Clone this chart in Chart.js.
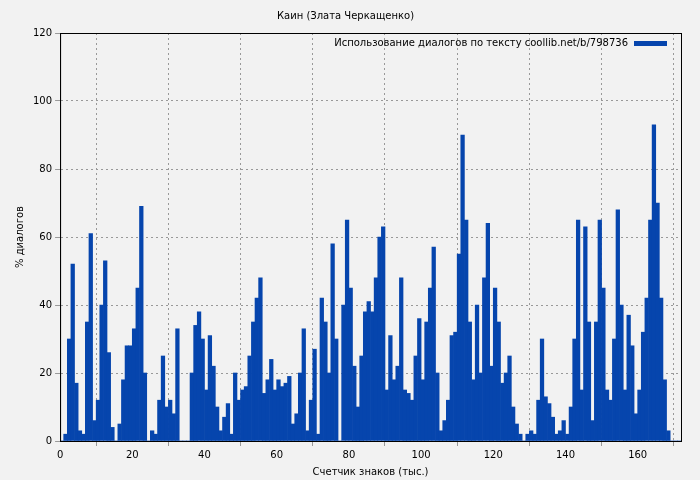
<html>
<head>
<script src="https://cdn.jsdelivr.net/npm/chart.js@4.4.0/dist/chart.umd.min.js"></script>
<style>
  body { margin: 0; background: #f2f2f2; }
  #wrap { width: 700px; height: 480px; }
</style>
</head>
<body>
<div id="wrap"><canvas id="myChart"></canvas></div>
<script>
// value per thousand characters (k = 0..171)
var dialogPct = [
  0, 2, 30, 52, 17, 3, 2, 35, 61, 6,
  12, 40, 53, 26, 4, 0, 5, 18, 28, 28,
  33, 45, 69, 20, 0, 3, 2, 12, 25, 10,
  12, 8, 33, 0, 0, 0, 20, 34, 38, 30,
  15, 31, 22, 10, 3, 7, 11, 2, 20, 12,
  15, 16, 25, 35, 42, 48, 14, 18, 24, 15,
  18, 16, 17, 19, 5, 8, 20, 33, 3, 12,
  27, 2, 42, 35, 20, 58, 30, 0, 40, 65,
  45, 22, 10, 25, 38, 41, 38, 48, 60, 63,
  15, 31, 18, 22, 48, 15, 14, 12, 25, 36,
  18, 35, 45, 57, 20, 3, 6, 12, 31, 32,
  55, 90, 65, 35, 18, 40, 20, 48, 64, 22,
  45, 35, 17, 20, 25, 10, 5, 2, 0, 2,
  3, 2, 12, 30, 13, 11, 7, 2, 3, 6,
  2, 10, 30, 65, 15, 63, 35, 6, 35, 65,
  45, 15, 12, 30, 68, 40, 15, 37, 28, 8,
  15, 32, 42, 65, 93, 70, 42, 18, 3, 0,
  0, 0
];
var xTicks = [0, 20, 40, 60, 80, 100, 120, 140, 160];
var yTicks = [0, 20, 40, 60, 80, 100, 120];
var seriesName = 'Использование диалогов по тексту coollib.net/b/798736';

var points = dialogPct.map(function (v, i) { return { x: i + 0.5, y: v }; });
var font = { family: 'DejaVu Sans', size: 10, weight: 'normal' };

new Chart(document.getElementById('myChart'), {
  type: 'bar',
  data: {
    datasets: [{
      label: seriesName,
      data: points,
      backgroundColor: '#0645ad',
      borderWidth: 0,
      barPercentage: 1,
      categoryPercentage: 1
    }]
  },
  options: {
    responsive: true,
    maintainAspectRatio: false,
    animation: false,
    layout: { padding: { left: 10, right: 19, top: 4, bottom: 0 } },
    plugins: {
      title: { display: true, text: 'Каин (Злата Черкащенко)', color: '#000', font: font, padding: { top: 6, bottom: 11 } },
      legend: { display: false },
      tooltip: { enabled: false }
    },
    scales: {
      x: {
        type: 'linear', min: 0, max: 172, offset: false,
        afterBuildTicks: function (s) { s.ticks = xTicks.map(function (v) { return { value: v }; }); },
        ticks: { color: '#000', font: font, maxRotation: 0 },
        grid: { color: '#999', tickLength: 5 },
        border: { color: '#000', dash: [2, 3] },
        title: { display: true, text: 'Счетчик знаков (тыс.)', color: '#000', font: font, padding: 2 }
      },
      y: {
        min: 0, max: 120,
        afterBuildTicks: function (s) { s.ticks = yTicks.map(function (v) { return { value: v }; }); },
        ticks: { color: '#000', font: font },
        grid: { color: '#999', tickLength: 5 },
        border: { color: '#000', dash: [2, 3] },
        title: { display: true, text: '% диалогов', color: '#000', font: font }
      }
    }
  },
  plugins: [{
    id: 'frame',
    beforeDraw: function (c) {
      var g = c.ctx; g.save(); g.fillStyle = '#f2f2f2'; g.fillRect(0, 0, c.width, c.height); g.restore();
    },
    afterDraw: function (c) {
      var a = c.chartArea, g = c.ctx;
      g.save(); g.strokeStyle = '#000'; g.lineWidth = 1; g.setLineDash([]);
      g.strokeRect(a.left + 0.5, a.top + 0.5, a.right - a.left, a.bottom - a.top);
      // legend, top right inside the plot
      g.font = '10px "DejaVu Sans"'; g.fillStyle = '#000';
      g.textAlign = 'right'; g.textBaseline = 'middle';
      var yL = a.top + 10, xBox = a.right - 47;
      g.fillText(seriesName, xBox - 6, yL);
      g.fillStyle = '#0645ad';
      g.fillRect(xBox, yL - 2, 33, 5);
      g.restore();
    }
  }]
});
</script>
</body>
</html>
